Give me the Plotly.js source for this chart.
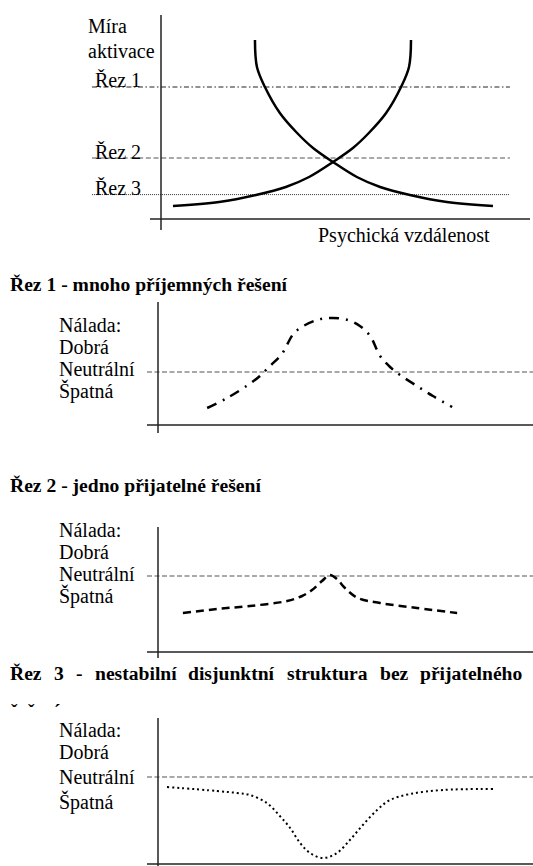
<!DOCTYPE html>
<html>
<head>
<meta charset="utf-8">
<script src="https://cdn.plot.ly/plotly-3.0.1.min.js"></script>
<style>html,body{margin:0;padding:0;background:#fff;}#chart{width:533px;height:866px;}</style>
</head>
<body>
<div id="chart"></div>
<script>
// ---------- DATA ----------
// Top chart: activation vs. psychological distance
const curveDownX = [2.83, 2.89, 3.13, 3.58, 4.10, 4.58, 5.18, 5.90, 6.60, 7.50, 8.61, 10.0];
const curveDownY = [8.95, 7.6, 6.6, 5.3, 4.3, 3.55, 2.85, 2.1, 1.6, 1.2, 0.85, 0.65];
const curveUpX = [0.36, 1.75, 2.86, 3.76, 4.46, 5.18, 5.78, 6.26, 6.78, 7.23, 7.47, 7.53];
const curveUpY = [0.65, 0.85, 1.2, 1.6, 2.1, 2.85, 3.55, 4.3, 5.3, 6.6, 7.6, 8.95];
const rezLabels = ['Řez 1', 'Řez 2', 'Řez 3'];
const rezLevels = [6.6, 3.05, 1.22];
const rezSpan = [-2.08, 10.51];
const yAxisLabel = ['Míra', 'aktivace'];
const xAxisLabel = 'Psychická vzdálenost';

// Mood panels
const panelTitles = ['Řez 1 - mnoho příjemných řešení', 'Řez 2 - jedno přijatelné řešení'];
const panel3TitleWords = ['Řez', '3', '-', 'nestabilní', 'disjunktní', 'struktura', 'bez', 'přijatelného'];
const panel3Overflow = ['ˇ', 'ˇ', '´'];
const moodLabels = ['Nálada:', 'Dobrá', 'Neutrální', 'Špatná'];
const neutralLevel = 0;

const mood1X = [1.48, 2.08, 2.71, 3.07, 3.34, 3.73, 4.13, 4.79, 5.27, 5.72, 6.08, 6.39, 6.69, 6.99, 7.29, 7.80, 8.28, 8.86];
const mood1Y = [-1.8, -1.3, -0.65, -0.2, 0.25, 0.9, 2.0, 2.6, 2.7, 2.6, 2.3, 1.8, 0.8, 0.25, -0.15, -0.7, -1.2, -1.75];

const mood2X = [0.75, 1.78, 2.77, 3.89, 4.34, 4.64, 4.94, 5.18, 5.39, 5.63, 6.02, 6.69, 7.80, 9.01];
const mood2Y = [-1.85, -1.65, -1.5, -1.25, -1.0, -0.7, -0.25, 0.05, -0.15, -0.6, -1.1, -1.35, -1.6, -1.85];

const mood3X = [0.27, 1.78, 2.38, 2.77, 3.28, 3.67, 3.98, 4.28, 4.58, 4.97, 5.39, 5.78, 6.17, 6.60, 6.99, 7.59, 8.58, 10.09];
const mood3Y = [-0.5, -0.7, -0.8, -0.9, -1.3, -1.95, -2.55, -3.3, -3.8, -4.05, -3.8, -3.15, -2.4, -1.65, -1.15, -0.85, -0.65, -0.6];

// ---------- LAYOUT HELPERS ----------
const W = 533, H = 866, SX = 33.2, SY = 20;
const FONT = 'Liberation Serif';
const FS = 20, FSB = 19.6;
const px = v => v / W;
const py = v => 1 - v / H;

// pixel frames of the four plots: top/bottom of domain, pixel of x=0 and y=0
const frames = [
  {T: 0, B: 245, x0: 161, y0: 219, vTop: 15, vBot: 230, hY: 219, hL: 150, hR: 530},
  {T: 295, B: 440, x0: 158, y0: 372, vTop: 302, vBot: 433, hY: 425, hL: 147, hR: 533},
  {T: 505, B: 665, x0: 158, y0: 576, vTop: 527, vBot: 658, hY: 652, hL: 147, hR: 533},
  {T: 690, B: 866, x0: 158, y0: 777, vTop: 718, vBot: 866, hY: 864, hL: 147, hR: 533}
];
const toX = (f, p) => (p - f.x0) / SX;
const toY = (f, p) => (f.y0 - p) / SY;

const layout = {
  width: W, height: H,
  margin: {l: 0, r: 0, t: 0, b: 0, pad: 0},
  paper_bgcolor: '#fff', plot_bgcolor: 'rgba(0,0,0,0)',
  showlegend: false,
  font: {family: FONT, size: FS, color: '#000'},
  shapes: [], annotations: []
};

frames.forEach((f, i) => {
  const s = i === 0 ? '' : String(i + 1);
  const axBase = {showgrid: false, zeroline: false, showline: false, showticklabels: false, ticks: '', fixedrange: true};
  layout['xaxis' + s] = Object.assign({}, axBase, {domain: [0, 1], range: [toX(f, 0), toX(f, W)], anchor: 'y' + s});
  layout['yaxis' + s] = Object.assign({}, axBase, {domain: [1 - f.B / H, 1 - f.T / H], range: [toY(f, f.B), toY(f, f.T)], anchor: 'x' + s});
  // axis lines
  layout.shapes.push({type: 'line', xref: 'x' + s, yref: 'y' + s, x0: 0, x1: 0, y0: toY(f, f.vTop), y1: toY(f, f.vBot), line: {color: '#222', width: 1.5}});
  layout.shapes.push({type: 'line', xref: 'x' + s, yref: 'y' + s, x0: toX(f, f.hL), x1: toX(f, f.hR), y0: toY(f, f.hY), y1: toY(f, f.hY), line: {color: '#222', width: 1.5}});
});

// ---------- TRACES ----------
const traces = [];
const rezStyles = [
  {color: '#222', width: 1, dash: '5px,2.5px,1.5px,2.5px'},
  {color: '#555', width: 1.2, dash: '5px,2.7px'},
  {color: '#333', width: 1, dash: '1px,1px'}
];
rezLevels.forEach((lv, i) => {
  traces.push({x: rezSpan, y: [lv, lv], xaxis: 'x', yaxis: 'y', mode: 'lines', line: rezStyles[i], hoverinfo: 'skip'});
});
traces.push({x: curveDownX, y: curveDownY, xaxis: 'x', yaxis: 'y', mode: 'lines', line: {color: '#000', width: 2.5, shape: 'spline', smoothing: 1}, hoverinfo: 'skip'});
traces.push({x: curveUpX, y: curveUpY, xaxis: 'x', yaxis: 'y', mode: 'lines', line: {color: '#000', width: 2.5, shape: 'spline', smoothing: 1}, hoverinfo: 'skip'});

const moodSeries = [[mood1X, mood1Y], [mood2X, mood2Y], [mood3X, mood3Y]];
const moodStyles = [
  {color: '#000', width: 2.5, dash: '10px,7px,2px,7px', shape: 'spline', smoothing: 1},
  {color: '#000', width: 2.5, dash: '8px,5px', shape: 'spline', smoothing: 1},
  {color: '#000', width: 2, dash: '2px,3px', shape: 'spline', smoothing: 1}
];
moodSeries.forEach((ser, i) => {
  const s = String(i + 2);
  const f = frames[i + 1];
  traces.push({x: [toX(f, 147), toX(f, 533)], y: [neutralLevel, neutralLevel], xaxis: 'x' + s, yaxis: 'y' + s, mode: 'lines', line: {color: '#555', width: 1.2, dash: '5px,2.5px'}, hoverinfo: 'skip'});
  traces.push({x: ser[0], y: ser[1], xaxis: 'x' + s, yaxis: 'y' + s, mode: 'lines', line: moodStyles[i], hoverinfo: 'skip'});
});

// ---------- TEXT ----------
function ann(text, xPix, yPix, opts) {
  layout.annotations.push(Object.assign({
    text: text, xref: 'paper', yref: 'paper', x: px(xPix), y: py(yPix),
    xanchor: 'left', yanchor: 'middle', showarrow: false, align: 'left',
    font: {family: FONT, size: FS, color: '#000'}
  }, opts || {}));
}
const bold = {font: {family: FONT, size: FSB, color: '#000'}};
ann(yAxisLabel[0], 86, 26);
ann(yAxisLabel[1], 86, 51);
const rezLabelY = [80, 152, 188];
rezLabels.forEach((t, i) => ann(t, 93, rezLabelY[i]));
ann(xAxisLabel, 316, 236);

ann('<b>' + panelTitles[0] + '</b>', 8, 284, bold);
ann('<b>' + panelTitles[1] + '</b>', 8, 485, bold);

// justified line of panel 3 title (from x=10 to x=523)
const ctx = document.createElement('canvas').getContext('2d');
ctx.font = 'bold ' + FSB + 'px "Liberation Serif"';
const widths = panel3TitleWords.map(w => ctx.measureText(w).width);
const totalW = widths.reduce((a, b) => a + b, 0);
const gap = (523 - 10 - totalW) / (panel3TitleWords.length - 1);
let cx = 10;
panel3TitleWords.forEach((w, i) => {
  ann('<b>' + w + '</b>', cx + widths[i] / 2, 673, Object.assign({xanchor: 'center'}, bold));
  cx += widths[i] + gap;
});
const ovX = [14, 31, 57.5];
panel3Overflow.forEach((c, i) => ann('<b>' + c + '</b>', ovX[i], 710, Object.assign({xanchor: 'center'}, bold)));

const moodY = [[325, 347, 369, 391], [530, 552, 574, 596], [730, 752, 777, 802]];
moodY.forEach(ys => moodLabels.forEach((t, i) => ann(t, 57, ys[i])));

Plotly.newPlot('chart', traces, layout, {displayModeBar: false, staticPlot: true});
</script>
</body>
</html>
